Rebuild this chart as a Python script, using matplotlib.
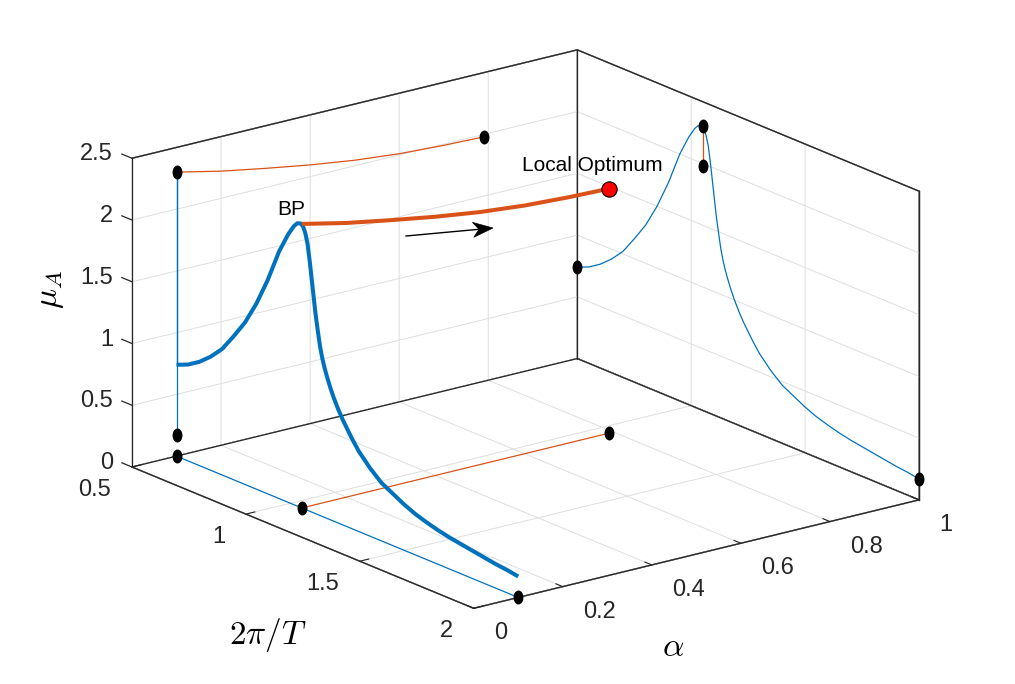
import numpy as np
import matplotlib
matplotlib.use("Agg")
import matplotlib.pyplot as plt
from matplotlib.markers import MarkerStyle
from matplotlib.transforms import Affine2D
from matplotlib.patches import Polygon
from matplotlib.lines import Line2D
from mpl_toolkits.mplot3d import proj3d

plt.rcParams['font.family'] = ['Liberation Sans', 'DejaVu Sans']
plt.rcParams['mathtext.fontset'] = 'cm'

# ---------------- data ----------------
# blue branch: alpha fixed, mu_A vs 2*pi/T
blue_alpha = 0.1
blue_freq = [0.50, 0.55, 0.60, 0.65, 0.70, 0.75, 0.80, 0.85, 0.90, 0.95, 0.99,
             1.015, 1.03, 1.045, 1.055, 1.065, 1.075, 1.085, 1.095, 1.11, 1.12,
             1.13, 1.14, 1.15, 1.16, 1.175, 1.19, 1.21, 1.23, 1.25, 1.27, 1.30,
             1.35, 1.40, 1.46, 1.50, 1.55, 1.60, 1.65, 1.70, 1.75, 1.80, 1.85,
             1.90, 1.95, 2.00]
blue_mu = [0.74, 0.78, 0.84, 0.92, 1.02, 1.16, 1.31, 1.50, 1.73, 2.00, 2.17,
           2.255, 2.29, 2.30, 2.285, 2.24, 2.16, 2.02, 1.86, 1.62, 1.49,
           1.37, 1.28, 1.21, 1.15, 1.07, 1.00, 0.92, 0.85, 0.79, 0.73, 0.65,
           0.55, 0.47, 0.41, 0.37, 0.33, 0.30, 0.275, 0.255, 0.24, 0.225, 0.21,
           0.195, 0.185, 0.17]

# orange branch: 2*pi/T fixed, mu_A vs alpha (from BP to local optimum)
orange_freq = 1.05
orange_alpha = [0.10, 0.20, 0.30, 0.40, 0.50, 0.60, 0.70, 0.79]
orange_mu = [2.30, 2.22, 2.155, 2.095, 2.045, 2.01, 1.99, 1.98]

x_ticks = [0.5, 1, 1.5, 2]
x_ticklabels = ['0.5', '1', '1.5', '2']
y_ticks = [0, 0.2, 0.4, 0.6, 0.8, 1]
y_ticklabels = ['0', '0.2', '0.4', '0.6', '0.8', '1']
z_ticks = [0, 0.5, 1, 1.5, 2, 2.5]
z_ticklabels = ['0', '0.5', '1', '1.5', '2', '2.5']

BLUE = '#0072BD'
ORANGE = '#D95319'
AXC = '#262626'

W, H = 1015, 684
fig = plt.figure(figsize=(W / 100, H / 100), dpi=100)
S = 1100
ax = fig.add_axes([(W - S) / 2 / W, (H - S) / 2 / H, S / W, S / H],
                  projection='3d', proj_type='ortho', computed_zorder=False)
ax.view_init(elev=18.5, azim=-37.5)
aspect = (1.0, 1.0, 0.58)
ax.set_box_aspect(aspect, zoom=1.0)
xmin, xmax = 0.5, 2.0
ymin, ymax = 0.0, 1.0
zmin, zmax = 0.0, 2.5
ax.set_xlim(xmin, xmax)
ax.set_ylim(ymin, ymax)
ax.set_zlim(zmin, zmax)

ax.set_xticks(x_ticks)
ax.set_xticklabels([''] * len(x_ticks))
ax.set_yticks(y_ticks)
ax.set_yticklabels([''] * len(y_ticks))
ax.set_zticks(z_ticks)
ax.set_zticklabels([''] * len(z_ticks))
ax.tick_params(colors=AXC)

for axis in (ax.xaxis, ax.yaxis, ax.zaxis):
    axis.set_pane_color((1, 1, 1, 1))
    axis.pane.set_edgecolor(AXC)
    axis.pane.set_linewidth(1.0)
    axis.line.set_color(AXC)
    axis.line.set_linewidth(0.9)
    axis._axinfo['grid'].update(color='#dedede', linewidth=0.7)
    axis._axinfo['tick'].update(inward_factor=0.0, outward_factor=0.25)
# z tick marks are drawn by hand on the left edge below
ax.zaxis._axinfo['tick'].update(inward_factor=0.0, outward_factor=0.0)

# back box edges
for xs_, ys_, zs_ in [((xmin, xmin), (ymin, ymin), (zmin, zmax)),
                      ((xmin, xmin), (ymax, ymax), (zmin, zmax)),
                      ((xmax, xmax), (ymax, ymax), (zmin, zmax)),
                      ((xmin, xmin), (ymin, ymax), (zmax, zmax)),
                      ((xmin, xmax), (ymax, ymax), (zmax, zmax)),
                      ((xmin, xmin), (ymin, ymax), (zmin, zmin)),
                      ((xmin, xmax), (ymax, ymax), (zmin, zmin))]:
    ax.plot(xs_, ys_, zs_, color=AXC, lw=0.9, zorder=2)

fb = np.array(blue_freq)
mb = np.array(blue_mu)
ab = np.full_like(fb, blue_alpha)
ao = np.array(orange_alpha)
mo = np.array(orange_mu)
fo = np.full_like(ao, orange_freq)

dot = MarkerStyle('o', transform=Affine2D().scale(0.68, 1.0))
dkw = dict(marker=dot, markersize=9, color='k', linestyle='none', zorder=6)
thin = dict(lw=0.9, zorder=3, solid_joinstyle='round')

# projections on floor
ax.plot(fb, ab, np.zeros_like(fb), color=BLUE, **thin)
ax.plot(fo, ao, np.zeros_like(ao), color=ORANGE, **thin)
# projections on left wall (x = xmin)
ax.plot(np.full_like(fb, xmin), ab, mb, color=BLUE, **thin)
ax.plot(np.full_like(ao, xmin), ao, mo, color=ORANGE, **thin)
# projections on right wall (alpha = 1)
ax.plot(fb, np.full_like(fb, ymax), mb, color=BLUE, **thin)
ax.plot(fo, np.full_like(ao, ymax), mo, color=ORANGE, **thin)

# endpoint dots
ax.plot([fb[0], fb[-1], fo[0], fo[-1]], [ab[0], ab[-1], ao[0], ao[-1]], [0, 0, 0, 0], **dkw)
ax.plot([xmin, xmin, xmin], [blue_alpha, blue_alpha, ao[-1]], [mb.min(), mb.max(), mo[-1]], **dkw)
ax.plot([fb[0], fb[-1], fo[0], fo[-1]], [ymax] * 4, [mb[0], mb[-1], mo[0], mo[-1]], **dkw)

# main 3D curves
ax.plot(fb, ab, mb, color=BLUE, lw=2.9, zorder=7, solid_capstyle='butt', solid_joinstyle='round')
ax.plot(fo, ao, mo, color=ORANGE, lw=2.9, zorder=8, solid_capstyle='butt', solid_joinstyle='round')
ax.plot([fo[-1]], [ao[-1]], [mo[-1]], marker='o', markersize=11, markerfacecolor='#ff0000',
        markeredgecolor='k', markeredgewidth=0.8, linestyle='none', zorder=9)

# ---- calibrate placement of the box ----
def to_img(x, y, z):
    xs, ys, _ = proj3d.proj_transform(np.atleast_1d(np.asarray(x, float)),
                                      np.atleast_1d(np.asarray(y, float)),
                                      np.atleast_1d(np.asarray(z, float)), ax.get_proj())
    d = ax.transData.transform(np.column_stack([xs, ys]))
    d[:, 1] = H - d[:, 1]
    return d

def ftext(px, py, s, **kw):
    fig.text(px / W, 1 - py / H, s, **kw)

fig.canvas.draw()
a = to_img(xmin, ymin, zmin)[0]
c = to_img(xmax, ymax, zmin)[0]
scale = (919 - 132) / (c[0] - a[0])
ax.set_box_aspect(aspect, zoom=scale)
fig.canvas.draw()
a = to_img(xmin, ymin, zmin)[0]
pos = ax.get_position(original=True)
ax.set_position([pos.x0 + (132 - a[0]) / W, pos.y0 - (467 - a[1]) / H, pos.width, pos.height])
fig.canvas.draw()

# tick labels
tk = dict(fontsize=17, color=AXC, va='center')
for v, s in zip(x_ticks, x_ticklabels):
    p = to_img(v, ymin, zmin)[0]
    ftext(p[0] - 21, p[1] + 23, s, ha='right', **tk)
for v, s in zip(y_ticks, y_ticklabels):
    p = to_img(xmax, v, zmin)[0]
    ftext(p[0] + 20, p[1] + 25, s, ha='left', **tk)
for v, s in zip(z_ticks, z_ticklabels):
    p = to_img(xmin, ymin, v)[0]
    q = to_img(xmin - 0.1, ymin, v)[0]
    dv = (q - p) / np.hypot(*(q - p)) * 11
    fig.add_artist(Line2D([p[0] / W, (p[0] + dv[0]) / W], [1 - p[1] / H, 1 - (p[1] + dv[1]) / H],
                          transform=fig.transFigure, color=AXC, lw=0.9))
    ftext(p[0] - 19, p[1] - 4, s, ha='right', **tk)

# annotations
bp = to_img(fb[np.argmax(mb)], blue_alpha, mb.max())[0]
ftext(bp[0] - 9, bp[1] - 4, 'BP', fontsize=15, ha='center', va='bottom')
lo = to_img(fo[-1], ao[-1], mo[-1])[0]
ftext(lo[0] - 17, lo[1] - 14, 'Local Optimum', fontsize=15, ha='center', va='bottom')

# arrow (annotation, figure pixel space)
tail = np.array([406.0, 236.0])
tip = np.array([493.0, 228.0])
d = (tip - tail) / np.hypot(*(tip - tail))
n = np.array([d[1], -d[0]])
hl, hw, notch = 20.0, 7.5, 14.0
back = tip - hl * d
pts = [tip, back + hw * n, tip - notch * d, back - hw * n]
fig.add_artist(Line2D([tail[0] / W, (tip - notch * d)[0] / W],
                      [1 - tail[1] / H, 1 - (tip - notch * d)[1] / H],
                      transform=fig.transFigure, color='k', lw=1.0))
fig.add_artist(Polygon([(p[0] / W, 1 - p[1] / H) for p in pts], closed=True,
                       transform=fig.transFigure, facecolor='k', edgecolor='k', lw=0.5))

# axis labels
ftext(50, 290, r'$\mu_A$', fontsize=24, rotation=90, ha='center', va='center')
ftext(268, 635, r'$2\pi/T$', fontsize=24, ha='center', va='center')
ftext(673, 648, r'$\alpha$', fontsize=24, ha='center', va='center')

fig.savefig('out.png', dpi=100, facecolor='white')
